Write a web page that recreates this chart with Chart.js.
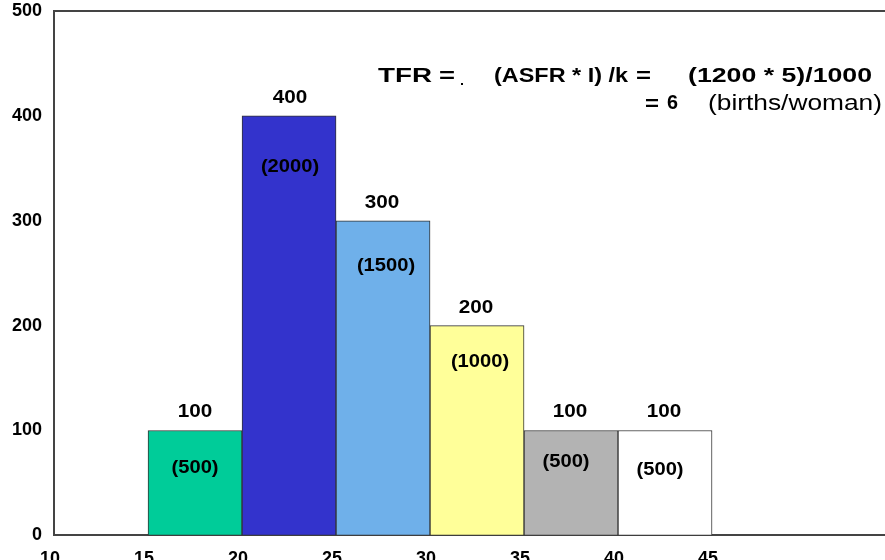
<!DOCTYPE html>
<html>
<head>
<meta charset="utf-8">
<script src="https://cdn.jsdelivr.net/npm/chart.js@4.4.1/dist/chart.umd.min.js"></script>
<style>
  html, body { margin: 0; padding: 0; background: #ffffff; overflow: hidden; }
  #wrap { width: 885px; height: 560px; overflow: hidden; }
  canvas { display: block; }
</style>
</head>
<body>
<div id="wrap"><canvas id="tfr" width="885" height="593"></canvas></div>
<script>
// Age groups (start of each 5-year interval)
const ageStarts = [15, 20, 25, 30, 35, 40];
// Age-specific fertility rate per 1000 women
const asfr = [100, 400, 300, 200, 100, 100];
// Births per 1000 women over the 5-year interval
const births = [500, 2000, 1500, 1000, 500, 500];
const barColors = ['#00CC99', '#3333CC', '#6FB0EA', '#FFFF99', '#B3B3B3', '#FFFFFF'];
const xTicks = [10, 15, 20, 25, 30, 35, 40, 45];
const yTicks = [0, 100, 200, 300, 400, 500];
const intervalWidth = 5;

const FONT = '"Liberation Sans", Arial, Helvetica, sans-serif';

// Per-bar nudges for the interval labels
const innerDy = [38, 51, 45, 36, 32, 40];
const innerDx = [0, 1, 3, 3, -5, -5];
const topDx = [0, 1, -1, -1, -1, -1];

// Draws text scaled horizontally by a factor, anchored on its centre
function wideText(ctx, text, x, y, sx) {
  ctx.save();
  ctx.translate(x, y);
  ctx.scale(sx, 1);
  ctx.fillText(text, 0, 0);
  ctx.restore();
}

// Draws text scaled horizontally to a given width
function fitText(ctx, text, x, y, w) {
  const m = ctx.measureText(text).width;
  ctx.save();
  ctx.translate(x, y);
  ctx.scale(w / m, 1);
  ctx.fillText(text, 0, 0);
  ctx.restore();
}

const barLabels = {
  id: 'barLabels',
  afterDatasetsDraw(chart) {
    const ctx = chart.ctx;
    const meta = chart.getDatasetMeta(0);
    ctx.save();
    ctx.fillStyle = '#000';
    ctx.textAlign = 'center';
    ctx.textBaseline = 'middle';
    ctx.font = 'bold 18px ' + FONT;
    meta.data.forEach((bar, i) => {
      wideText(ctx, String(asfr[i]), bar.x + topDx[i], bar.y - 18, 1.15);
      wideText(ctx, '(' + births[i] + ')', bar.x + innerDx[i], bar.y + innerDy[i], 1.12);
    });
    ctx.restore();
  }
};

const frameAndFormula = {
  id: 'frameAndFormula',
  afterDraw(chart) {
    const ctx = chart.ctx;
    const a = chart.chartArea;
    ctx.save();
    // top frame line
    ctx.strokeStyle = '#444';
    ctx.lineWidth = 2;
    ctx.beginPath();
    ctx.moveTo(a.left - 1, a.top);
    ctx.lineTo(chart.width, a.top);
    ctx.stroke();

    ctx.fillStyle = '#000';
    ctx.textAlign = 'left';
    ctx.textBaseline = 'middle';
    ctx.font = 'bold 20px ' + FONT;
    fitText(ctx, 'TFR', 378, 76, 54);
    fitText(ctx, '=', 439, 76, 16);
    ctx.fillRect(461, 83, 2, 2);
    fitText(ctx, '(ASFR * I) /k', 494, 76, 134);
    fitText(ctx, '=', 636, 76, 15);
    fitText(ctx, '(1200 * 5)/1000', 688, 76, 184);
    fitText(ctx, '=', 645, 104, 14);
    fitText(ctx, '6', 667, 103, 11);
    ctx.font = '22px ' + FONT;
    fitText(ctx, '(births/woman)', 708, 104, 174);
    ctx.restore();
  }
};

new Chart(document.getElementById('tfr'), {
  type: 'bar',
  data: {
    datasets: [{
      data: ageStarts.map((s, i) => ({ x: s + intervalWidth / 2, y: asfr[i] })),
      backgroundColor: barColors,
      borderColor: '#333',
      borderWidth: 1,
      borderSkipped: false,
      barPercentage: 1,
      categoryPercentage: 1
    }]
  },
  options: {
    responsive: false,
    animation: false,
    layout: { padding: { top: 11, left: 0, right: 0, bottom: 10 } },
    plugins: { legend: { display: false }, tooltip: { enabled: false } },
    scales: {
      x: {
        type: 'linear',
        min: 10,
        max: 54.2,
        offset: false,
        afterBuildTicks(scale) { scale.ticks = xTicks.map(v => ({ value: v })); },
        grid: { display: false, drawTicks: false },
        border: { display: true, color: '#444', width: 2 },
        ticks: {
          padding: 13,
          labelOffset: -4,
          color: '#000',
          font: { family: FONT, size: 18, weight: 'bold' },
          autoSkip: false,
          maxRotation: 0
        }
      },
      y: {
        min: 0,
        max: 500,
        afterBuildTicks(scale) { scale.ticks = yTicks.map(v => ({ value: v })); },
        afterFit(scale) { scale.paddingTop = 0; scale.paddingBottom = 0; },
        grid: { display: false, drawTicks: false },
        border: { display: true, color: '#444', width: 2 },
        ticks: {
          padding: 12,
          color: '#000',
          font: { family: FONT, size: 18, weight: 'bold' }
        }
      }
    }
  },
  plugins: [barLabels, frameAndFormula]
});
</script>
</body>
</html>
